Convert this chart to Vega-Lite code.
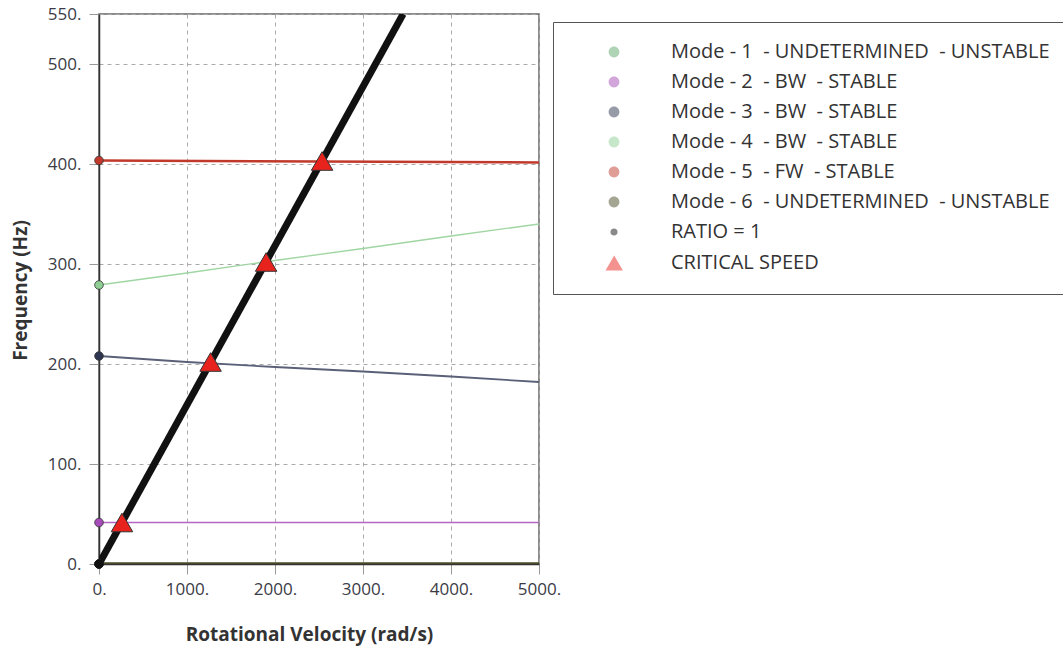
{
  "$schema": "https://vega.github.io/schema/vega-lite/v6.json",
  "autosize": "none",
  "width": 440,
  "height": 550,
  "padding": {"left": 99, "top": 14, "right": 524, "bottom": 87},
  "background": "white",
  "config": {
    "font": "Open Sans",
    "view": {"stroke": "#666", "strokeWidth": 1.5},
    "axis": {
      "labelFont": "Open Sans", "labelFontSize": 17, "labelColor": "#3b3b45",
      "titleFont": "Open Sans", "titleFontSize": 19, "titleFontWeight": "bold", "titleColor": "#333",
      "tickColor": "#999", "tickSize": 10, "tickWidth": 1,
      "domainColor": "#333", "domainWidth": 1.5,
      "gridColor": "#aaa", "gridDash": [4, 4], "gridWidth": 1
    }
  },
  "datasets": {
    "modes": [
      {"series": "Mode - 1 \u00a0- UNDETERMINED \u00a0- UNSTABLE", "w": 0, "f": 0},
      {"series": "Mode - 1 \u00a0- UNDETERMINED \u00a0- UNSTABLE", "w": 5000, "f": 0},
      {"series": "Mode - 2 \u00a0- BW \u00a0- STABLE", "w": 0, "f": 41.5},
      {"series": "Mode - 2 \u00a0- BW \u00a0- STABLE", "w": 5000, "f": 41.5},
      {"series": "Mode - 3 \u00a0- BW \u00a0- STABLE", "w": 0, "f": 208},
      {"series": "Mode - 3 \u00a0- BW \u00a0- STABLE", "w": 1000, "f": 202},
      {"series": "Mode - 3 \u00a0- BW \u00a0- STABLE", "w": 2000, "f": 197},
      {"series": "Mode - 3 \u00a0- BW \u00a0- STABLE", "w": 3000, "f": 192.5},
      {"series": "Mode - 3 \u00a0- BW \u00a0- STABLE", "w": 4000, "f": 187.5},
      {"series": "Mode - 3 \u00a0- BW \u00a0- STABLE", "w": 5000, "f": 182},
      {"series": "Mode - 4 \u00a0- BW \u00a0- STABLE", "w": 0, "f": 279},
      {"series": "Mode - 4 \u00a0- BW \u00a0- STABLE", "w": 1000, "f": 291},
      {"series": "Mode - 4 \u00a0- BW \u00a0- STABLE", "w": 2000, "f": 303.5},
      {"series": "Mode - 4 \u00a0- BW \u00a0- STABLE", "w": 3000, "f": 315.5},
      {"series": "Mode - 4 \u00a0- BW \u00a0- STABLE", "w": 4000, "f": 328},
      {"series": "Mode - 4 \u00a0- BW \u00a0- STABLE", "w": 5000, "f": 340},
      {"series": "Mode - 5 \u00a0- FW \u00a0- STABLE", "w": 0, "f": 403.5},
      {"series": "Mode - 5 \u00a0- FW \u00a0- STABLE", "w": 2500, "f": 402.5},
      {"series": "Mode - 5 \u00a0- FW \u00a0- STABLE", "w": 5000, "f": 401.5},
      {"series": "Mode - 6 \u00a0- UNDETERMINED \u00a0- UNSTABLE", "w": 0, "f": 0},
      {"series": "Mode - 6 \u00a0- UNDETERMINED \u00a0- UNSTABLE", "w": 5000, "f": 0}
    ],
    "ratio": [
      {"series": "RATIO = 1", "w": 0, "f": 0},
      {"series": "RATIO = 1", "w": 3456, "f": 550}
    ],
    "crit": [
      {"series": "CRITICAL SPEED", "w": 261, "f": 41.5},
      {"series": "CRITICAL SPEED", "w": 1268, "f": 202},
      {"series": "CRITICAL SPEED", "w": 1899, "f": 302},
      {"series": "CRITICAL SPEED", "w": 2535, "f": 403}
    ]
  },
  "encoding": {
    "x": {
      "field": "w", "type": "quantitative",
      "scale": {"domain": [0, 5000], "nice": false},
      "axis": {
        "title": "Rotational Velocity (rad/s)",
        "values": [0, 1000, 2000, 3000, 4000, 5000],
        "labelExpr": "datum.value + '.'",
        "labelPadding": 7,
        "labelFlush": false,
        "labelOverlap": false,
        "titleX": 210, "titleY": 70, "titleBaseline": "middle", "titleAnchor": null
      }
    },
    "y": {
      "field": "f", "type": "quantitative",
      "scale": {"domain": [0, 550], "nice": false},
      "axis": {
        "title": "Frequency (Hz)",
        "values": [0, 100, 200, 300, 400, 500, 550],
        "labelExpr": "datum.value + '.'",
        "labelPadding": 8,
        "labelFlush": false,
        "labelOverlap": false,
        "titleX": -79, "titleY": 276, "titleBaseline": "middle", "titleAnchor": null
      }
    }
  },
  "layer": [
    {
      "data": {"name": "modes"},
      "mark": {"type": "line", "clip": true},
      "encoding": {
        "stroke": {
          "field": "series", "type": "nominal", "legend": null,
          "scale": {
            "domain": ["RATIO = 1", "Mode - 1 \u00a0- UNDETERMINED \u00a0- UNSTABLE", "Mode - 2 \u00a0- BW \u00a0- STABLE", "Mode - 3 \u00a0- BW \u00a0- STABLE", "Mode - 4 \u00a0- BW \u00a0- STABLE", "Mode - 5 \u00a0- FW \u00a0- STABLE", "Mode - 6 \u00a0- UNDETERMINED \u00a0- UNSTABLE", "CRITICAL SPEED"],
            "range": ["#111111", "#6dbb7a", "#b565c4", "#5a6078", "#9fd6a2", "#c0392b", "#4a4a28", "#333333"]
          }
        },
        "strokeWidth": {
          "field": "series", "type": "ordinal", "legend": null,
          "scale": {
            "type": "ordinal",
            "domain": ["RATIO = 1", "Mode - 1 \u00a0- UNDETERMINED \u00a0- UNSTABLE", "Mode - 2 \u00a0- BW \u00a0- STABLE", "Mode - 3 \u00a0- BW \u00a0- STABLE", "Mode - 4 \u00a0- BW \u00a0- STABLE", "Mode - 5 \u00a0- FW \u00a0- STABLE", "Mode - 6 \u00a0- UNDETERMINED \u00a0- UNSTABLE", "CRITICAL SPEED"],
            "range": [7, 1.3, 1.6, 1.8, 1.3, 2.5, 3.5, 1]
          }
        }
      }
    },
    {
      "data": {"name": "ratio"},
      "mark": {"type": "line", "clip": true},
      "encoding": {
        "stroke": {
          "field": "series", "type": "nominal", "legend": null,
          "scale": {
            "domain": ["RATIO = 1", "Mode - 1 \u00a0- UNDETERMINED \u00a0- UNSTABLE", "Mode - 2 \u00a0- BW \u00a0- STABLE", "Mode - 3 \u00a0- BW \u00a0- STABLE", "Mode - 4 \u00a0- BW \u00a0- STABLE", "Mode - 5 \u00a0- FW \u00a0- STABLE", "Mode - 6 \u00a0- UNDETERMINED \u00a0- UNSTABLE", "CRITICAL SPEED"],
            "range": ["#111111", "#6dbb7a", "#b565c4", "#5a6078", "#9fd6a2", "#c0392b", "#4a4a28", "#333333"]
          }
        },
        "strokeWidth": {
          "field": "series", "type": "ordinal", "legend": null,
          "scale": {
            "type": "ordinal",
            "domain": ["RATIO = 1", "Mode - 1 \u00a0- UNDETERMINED \u00a0- UNSTABLE", "Mode - 2 \u00a0- BW \u00a0- STABLE", "Mode - 3 \u00a0- BW \u00a0- STABLE", "Mode - 4 \u00a0- BW \u00a0- STABLE", "Mode - 5 \u00a0- FW \u00a0- STABLE", "Mode - 6 \u00a0- UNDETERMINED \u00a0- UNSTABLE", "CRITICAL SPEED"],
            "range": [7, 1.3, 1.6, 1.8, 1.3, 2.5, 3.5, 1]
          }
        }
      }
    },
    {
      "data": {"name": "modes"},
      "transform": [{"filter": "datum.w == 0"}],
      "mark": {"type": "point", "filled": true, "shape": "circle", "size": 75, "stroke": "#333", "strokeWidth": 0.8, "opacity": 1, "clip": false},
      "encoding": {
        "fill": {
          "field": "series", "type": "nominal", "legend": null,
          "scale": {
            "domain": ["RATIO = 1", "Mode - 1 \u00a0- UNDETERMINED \u00a0- UNSTABLE", "Mode - 2 \u00a0- BW \u00a0- STABLE", "Mode - 3 \u00a0- BW \u00a0- STABLE", "Mode - 4 \u00a0- BW \u00a0- STABLE", "Mode - 5 \u00a0- FW \u00a0- STABLE", "Mode - 6 \u00a0- UNDETERMINED \u00a0- UNSTABLE", "CRITICAL SPEED"],
            "range": ["#111111", "#5ca86a", "#a64cb8", "#2e3550", "#8fcf94", "#c0392b", "#4a4a28", "#e8231e"]
          }
        }
      }
    },
    {
      "data": {"name": "ratio"},
      "transform": [{"filter": "datum.w == 0"}],
      "mark": {"type": "point", "filled": true, "shape": "circle", "size": 75, "stroke": "#111", "strokeWidth": 0.8, "opacity": 1, "clip": false},
      "encoding": {
        "fill": {
          "field": "series", "type": "nominal", "legend": null,
          "scale": {
            "domain": ["RATIO = 1", "Mode - 1 \u00a0- UNDETERMINED \u00a0- UNSTABLE", "Mode - 2 \u00a0- BW \u00a0- STABLE", "Mode - 3 \u00a0- BW \u00a0- STABLE", "Mode - 4 \u00a0- BW \u00a0- STABLE", "Mode - 5 \u00a0- FW \u00a0- STABLE", "Mode - 6 \u00a0- UNDETERMINED \u00a0- UNSTABLE", "CRITICAL SPEED"],
            "range": ["#111111", "#5ca86a", "#a64cb8", "#2e3550", "#8fcf94", "#c0392b", "#4a4a28", "#e8231e"]
          }
        }
      }
    },
    {
      "data": {"name": "crit"},
      "mark": {"type": "point", "filled": true, "shape": "triangle-up", "size": 460, "stroke": "#333", "strokeWidth": 1, "opacity": 1, "fill": "#e8231e"}
    },
    {
      "data": {"name": "modes"},
      "transform": [{"filter": "datum.w < 0"}],
      "mark": {"type": "point", "filled": true},
      "encoding": {
        "color": {
          "field": "series", "type": "nominal",
          "scale": {
            "domain": ["Mode - 1 \u00a0- UNDETERMINED \u00a0- UNSTABLE", "Mode - 2 \u00a0- BW \u00a0- STABLE", "Mode - 3 \u00a0- BW \u00a0- STABLE", "Mode - 4 \u00a0- BW \u00a0- STABLE", "Mode - 5 \u00a0- FW \u00a0- STABLE", "Mode - 6 \u00a0- UNDETERMINED \u00a0- UNSTABLE", "RATIO = 1", "CRITICAL SPEED"],
            "range": ["#5ca86a", "#a64cb8", "#2e3550", "#8fcf94", "#c0392b", "#4a4a28", "#111111", "#e8231e"]
          },
          "legend": {
            "title": null,
            "orient": "none",
            "legendX": 454,
            "legendY": 8,
            "padding": 20,
            "strokeColor": "#555",
            "fillColor": "white",
            "symbolSize": 144,
            "labelFont": "Open Sans",
            "labelFontSize": 20,
            "labelColor": "#333",
            "labelOffset": 78,
            "labelLimit": 0,
            "rowPadding": 10,
            "symbolOpacity": 1,
            "symbolStrokeColor": "#555",
            "symbolStrokeWidth": 1.5
          }
        },
        "shape": {
          "field": "series", "type": "nominal",
          "scale": {
            "domain": ["Mode - 1 \u00a0- UNDETERMINED \u00a0- UNSTABLE", "Mode - 2 \u00a0- BW \u00a0- STABLE", "Mode - 3 \u00a0- BW \u00a0- STABLE", "Mode - 4 \u00a0- BW \u00a0- STABLE", "Mode - 5 \u00a0- FW \u00a0- STABLE", "Mode - 6 \u00a0- UNDETERMINED \u00a0- UNSTABLE", "RATIO = 1", "CRITICAL SPEED"],
            "range": [
              "M-2.67,0H13M4.27,0A0.9,0.9,0,1,1,6.07,0A0.9,0.9,0,1,1,4.27,0Z",
              "M-2.67,0H13M4.27,0A0.9,0.9,0,1,1,6.07,0A0.9,0.9,0,1,1,4.27,0Z",
              "M-2.67,0H13M4.27,0A0.9,0.9,0,1,1,6.07,0A0.9,0.9,0,1,1,4.27,0Z",
              "M-2.67,0H13M4.27,0A0.9,0.9,0,1,1,6.07,0A0.9,0.9,0,1,1,4.27,0Z",
              "M-2.67,0H13M4.27,0A0.9,0.9,0,1,1,6.07,0A0.9,0.9,0,1,1,4.27,0Z",
              "M-2.67,0H13M4.27,0A0.9,0.9,0,1,1,6.07,0A0.9,0.9,0,1,1,4.27,0Z",
              "M-2.67,0H13M4.57,0A0.6,0.6,0,1,1,5.77,0A0.6,0.6,0,1,1,4.57,0Z",
              "M5.2,-1.25L6.65,1.25L3.75,1.25Z"
            ]
          }
        }
      }
    }
  ]
}
